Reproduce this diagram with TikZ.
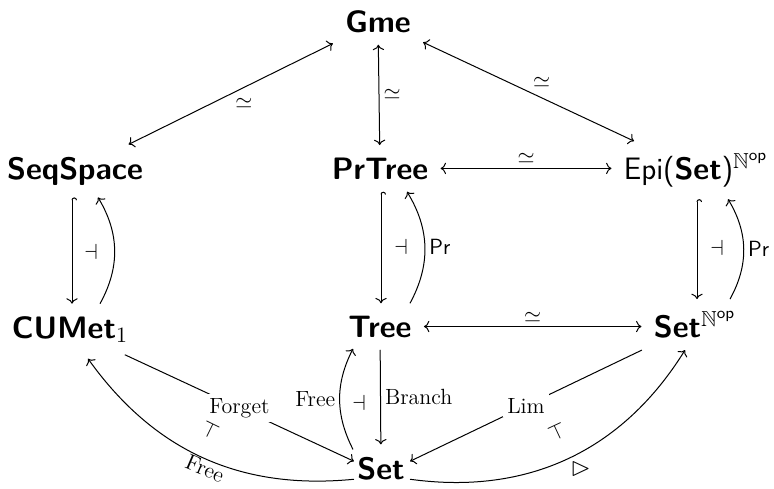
\documentclass[tikz,border=0pt]{standalone}
\usepackage{amssymb}
\usetikzlibrary{arrows.meta,calc}
\tikzset{
  obj/.style={font=\fontsize{15.5}{18}\selectfont\sffamily\bfseries, inner xsep=6pt, inner ysep=6pt},
  lab/.style={font=\fontsize{11}{13}\selectfont, inner sep=2pt},
  desc/.style={font=\fontsize{11}{13}\selectfont, fill=white, inner sep=2pt},
  ar/.style={line width=0.5pt, -{Computer Modern Rightarrow}},
  rar/.style={line width=0.5pt, {Computer Modern Rightarrow}-},
  iso/.style={line width=0.5pt, {Computer Modern Rightarrow}-{Computer Modern Rightarrow}},
  hookar/.style={line width=0.5pt, {Hooks[right]}-{Computer Modern Rightarrow}},
  adj/.style={font=\fontsize{11}{13}\selectfont, inner sep=0pt},
}
\begin{document}
\begin{tikzpicture}[x=0.5pt,y=-0.5pt]
\useasboundingbox (0,0) rectangle (774,488);
\node[obj, anchor=base] (gme) at (378,32) {Gme};
\node[obj, anchor=base] (seq) at (75,179) {SeqSpace};
\node[obj, anchor=base] (prt) at (380,179) {PrTree};
\node[obj, anchor=base, font=\fontsize{15.5}{18}\selectfont\sffamily] (epi) at (696,179) {Epi(\textbf{Set})$^{\mathbb{N}^{\mathsf{op}}}$};
\node[obj, anchor=base] (cum) at (70,338) {CUMet$_1$};
\node[obj, anchor=base] (tree) at (380,337) {Tree};
\node[obj, anchor=base] (setn) at (695,337) {Set$^{\mathbb{N}^{\mathsf{op}}}$};
\node[obj, anchor=base] (set) at (381,479) {Set};

% top isomorphisms
\draw[iso] (gme) -- node[lab, below right] {$\simeq$} (seq);
\draw[iso] (gme) -- node[lab, right] {$\simeq$} (prt);
\draw[iso] (gme) -- node[lab, above right] {$\simeq$} (epi);
\draw[iso] (prt.east) -- node[lab, above] {$\simeq$} (prt.east -| epi.west);
\draw[iso] (tree.east) -- node[lab, above] {$\simeq$} (tree.east -| setn.west);

% adjunction pairs (vertical)
\draw[hookar] ($(seq.south)+(-3,0)$) -- ($(cum.north)+(2,0)$);
\draw[ar] ($(cum.north)+(30,0)$) to[bend right=30] ($(seq.south)+(23,0)$);
\node[adj] (a1) at (91,252) {$\dashv$};

\draw[hookar] ($(prt.south)+(1,0)$) -- ($(tree.north)+(1,0)$);
\draw[ar] ($(tree.north)+(30,0)$) to[bend right=30] node[lab, right] {\textsf{Pr}} ($(prt.south)+(27,0)$);
\node[adj] (a2) at (401,247) {$\dashv$};

\draw[hookar] ($(epi.south)+(1,0)$) -- ($(setn.north)+(2,0)$);
\draw[ar] ($(setn.north)+(35,0)$) to[bend right=30] node[lab, right] {\textsf{Pr}} ($(epi.south)+(32,0)$);
\node[adj] (a3) at (717,248) {$\dashv$};

% Tree / Set
\draw[ar] (tree) -- node[lab, right] {Branch} (set);
\draw[ar] ($(set.north)+(-28,5)$) to[bend left=27] node[lab, left] {Free} ($(tree.south)+(-27,-1)$);
\node[adj] (a4) at (359,403) {$\dashv$};

% CUMet / Set
\draw[ar] (cum) -- node[desc] {Forget} ($(set.west)+(9,-7)$);
\draw[rar] ($(cum.south)+(18,4)$) to[bend right=30] node[lab, sloped, below, pos=0.52, inner sep=0.5pt] {Free} ($(set.west)+(9,11)$);
\node[adj, rotate=-26] (a5) at (210,430) {$\top$};

% Set^N / Set
\draw[ar] (setn) -- node[desc] {Lim} ($(set.east)+(-7,-7)$);
\draw[ar] ($(set.east)+(-7,11)$) to[bend right=33] node[lab, anchor=north west, inner sep=1pt, font=\fontsize{13}{15}\selectfont] {$\vartriangleright$} ($(setn.south)+(-10,0)$);
\node[adj, rotate=25] (a6) at (557,432) {$\top$};
\end{tikzpicture}
\end{document}
